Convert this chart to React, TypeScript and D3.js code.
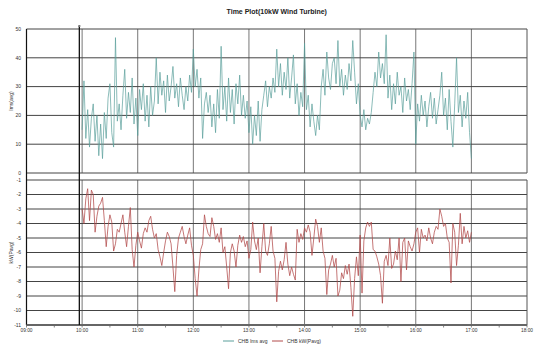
import React from "react";
import * as d3 from "d3";

// readings every 2 minutes, 10:00 .. 17:00
const startTime = "10:00";
const stepMinutes = 2;

const windSpeed = [
  15, 32, 12, 22, 9, 19, 24, 11, 20, 6,
  17, 5, 21, 12, 26, 31, 14, 9, 47, 18,
  24, 15, 27, 36, 19, 28, 21, 33, 17, 26,
  13, 29, 22, 31, 18, 27, 16, 30, 20, 25,
  40, 24, 35, 27, 32, 21, 34, 25, 30, 37,
  26, 31, 23, 33, 27, 22, 30, 25, 34, 28,
  43, 30, 36, 26, 33, 12, 24, 28, 21,
  27, 16, 24, 14, 29, 19, 44, 22, 30, 18, 33,
  21, 29, 17, 31, 24, 34, 20, 27, 19, 25,
  14, 23, 10, 20, 13, 25, 11, 22,
  27, 32, 23, 30, 26, 33, 28,
  43,
  30, 38, 27, 35, 29, 40, 26, 33,
  41,
  24, 31, 20, 28, 23,
  45,
  22, 27, 16, 24, 18, 13, 20, 15,
  30, 36, 27, 42, 33, 29, 38, 40, 31,
  46,
  30, 36, 27, 34, 29, 38, 32, 46,
  35, 24, 31,
  20, 16, 22, 15, 19, 17, 21, 28,
  35, 30, 42, 33, 38, 31, 48,
  26, 34, 22, 31, 24, 35, 27,
  30, 21, 33, 25, 29, 22, 31,
  42, 10,
  24, 18, 27, 20, 25, 16, 23, 28, 19, 26, 17, 22, 27,
  35,
  20, 26, 15, 29, 18, 9, 24,
  40,
  21, 27, 16, 25, 19, 28, 14, 5,
];

const power = [
  -3.0, -4.0, -2.3, -1.6, -3.8, -1.7, -2.0, -4.6, -3.5, -2.8,
  -2.6, -2.2, -3.8, -5.6, -4.2, -3.4, -3.9, -5.9, -5.4, -4.4,
  -4.6, -4.0, -3.4, -4.6, -5.6, -4.2, -2.9, -5.8, -7.0, -5.5,
  -4.6, -5.2, -5.7, -4.7, -4.3, -4.6, -3.8, -3.5, -4.4, -5.0,
  -4.7, -5.8, -6.3, -6.9, -6.0, -5.2, -4.6, -4.9, -5.4, -7.0,
  -8.7, -6.2, -5.0, -4.6, -4.2, -4.9, -5.4, -4.8, -4.3, -5.5,
  -6.2, -7.8, -9.0, -7.2, -5.8, -5.4, -3.4, -4.2, -4.7,
  -4.9, -3.6, -4.2, -5.1, -4.7, -5.3, -4.3, -6.0, -5.6, -7.0,
  -8.5, -6.0, -5.4, -5.9, -7.0, -5.5, -4.8, -5.3, -4.9, -5.6,
  -5.2, -6.4, -5.8, -3.9, -5.2, -5.8, -5.0, -7.4, -5.6, -4.0,
  -5.9, -6.2, -5.4, -4.2, -5.9, -6.4, -9.4, -7.3, -6.6, -7.2,
  -6.5, -5.3, -6.8, -7.6, -7.0, -7.5, -7.9, -4.4, -5.3, -4.7,
  -5.1, -4.3, -4.6, -4.1, -4.6, -6.2, -5.0, -3.7, -4.2, -5.3,
  -4.3, -5.9, -6.4, -8.9, -7.2, -6.8, -6.2, -7.0, -6.4,
  -9.0, -8.6, -7.4, -7.8, -6.9, -7.5, -6.8, -8.4, -10.4, -7.8,
  -6.3, -7.6, -4.8, -8.8, -5.2, -4.3, -3.9, -4.2, -3.9, -5.8,
  -5.9, -6.3, -6.8, -7.6, -9.5, -6.6, -6.2, -6.9, -5.0, -7.1,
  -6.8, -5.9, -6.5, -5.0, -8.0, -5.3, -5.0, -7.2, -5.2, -5.6,
  -5.9, -5.4, -4.6, -4.3, -6.0, -4.4, -5.0, -4.8, -5.2, -4.3,
  -5.0, -5.4, -4.6, -4.2, -4.4, -3.0, -3.5, -4.2, -4.0, -5.0,
  -5.3, -8.1, -4.0, -4.6, -6.9, -5.5, -3.3, -5.4, -4.2, -5.0,
  -4.5, -5.3, -4.6,
];

const hourTicks = ["09:00", "10:00", "11:00", "12:00", "13:00", "14:00", "15:00", "16:00", "17:00", "18:00"];
const windTicks = [0, 10, 20, 30, 40, 50];
const powerTicks = [-1, -2, -3, -4, -5, -6, -7, -8, -9, -10, -11];
const cursorTime = "09:57";

const title = "Time Plot(10kW Wind Turbine)";
const windLabel = "Ims(avg)";
const powerLabel = "kW(Pavg)";
const windLegend = "CHB Ims avg";
const powerLegend = "CHB kW(Pavg)";

const W = 534;
const H = 359;
const FONT = "'Liberation Sans', Arial, sans-serif";
const TEAL = "#5a9f9b";
const RED = "#b24a4a";

const parse = d3.timeParse("%H:%M");

export default function App ()
{
    const left = 26.5, right = 527;
    const top1 = 29, bot1 = 173;
    const top2 = 180, bot2 = 325;

    const t0 = parse(startTime) as Date;
    const times = windSpeed.map((_, i) => d3.timeMinute.offset(t0, i * stepMinutes));

    const x = d3.scaleTime()
        .domain([parse(hourTicks[0]) as Date, parse(hourTicks[hourTicks.length - 1]) as Date])
        .range([left, right]);
    const y1 = d3.scaleLinear().domain([0, 50]).range([bot1, top1]);
    const y2 = d3.scaleLinear().domain([-11, -1]).range([bot2, top2]);

    const windLine = d3.line<number>().x((_, i) => x(times[i])).y(d => y1(d));
    const powerLine = d3.line<number>().x((_, i) => x(times[i])).y(d => y2(d));

    const hours = hourTicks.map(h => parse(h) as Date);
    const halfHours = d3.timeMinute.every(30)!.range(hours[0], hours[hours.length - 1]).filter(d => d.getMinutes() === 30);
    const cx = x(parse(cursorTime) as Date);
    const midX = (left + right) / 2;

    return (
        <svg width={W} height={H} style={{ position: "absolute", left: 0, top: 0, background: "#fff" }} fontFamily={FONT}>
            <text x={midX} y={14} textAnchor="middle" fontSize={7} fontWeight="bold" fill="#222">{title}</text>

            {/* vertical grid */}
            {hours.slice(1, -1).map((h, i) => (
                <g key={i}>
                    <line x1={x(h)} x2={x(h)} y1={top1} y2={bot1} stroke="#777" strokeWidth={1} />
                    <line x1={x(h)} x2={x(h)} y1={top2} y2={bot2} stroke="#777" strokeWidth={1} />
                </g>
            ))}

            {/* horizontal grid, top */}
            {windTicks.map(t => (
                <g key={t}>
                    <line x1={left} x2={right} y1={y1(t)} y2={y1(t)} stroke="#444" strokeWidth={1} />
                    <text x={21} y={y1(t) + 1.8} textAnchor="end" fontSize={5} fill="#333">{t}</text>
                </g>
            ))}
            {/* horizontal grid, bottom */}
            {powerTicks.map(t => (
                <g key={t}>
                    <line x1={left} x2={right} y1={y2(t)} y2={y2(t)} stroke="#444" strokeWidth={1} />
                    <text x={21} y={y2(t) + 1.8} textAnchor="end" fontSize={5} fill="#333">{t}</text>
                </g>
            ))}

            <path d={windLine(windSpeed) ?? ""} fill="none" stroke={TEAL} strokeWidth={0.7} strokeLinejoin="round" />
            <path d={powerLine(power) ?? ""} fill="none" stroke={RED} strokeWidth={0.75} strokeLinejoin="round" />

            {/* frames */}
            <line x1={right} x2={right} y1={top1} y2={bot1} stroke="#555" />
            <line x1={right} x2={right} y1={top2} y2={bot2} stroke="#555" />
            <line x1={left} x2={left} y1={top1} y2={bot2} stroke="#111" strokeWidth={1.2} />
            <line x1={left} x2={right} y1={bot2} y2={bot2} stroke="#666" strokeWidth={2} />

            {/* cursor */}
            <line x1={cx} x2={cx} y1={26} y2={bot2} stroke="#111" strokeWidth={1.3} />
            <rect x={cx - 1} y={25} width={2} height={2} fill="#777" />

            {/* x axis */}
            {halfHours.map((h, i) => (
                <line key={i} x1={x(h)} x2={x(h)} y1={bot2} y2={bot2 + 2.5} stroke="#666" strokeWidth={0.8} />
            ))}
            {hours.map((h, i) => (
                <g key={i}>
                    <line x1={x(h)} x2={x(h)} y1={bot2} y2={bot2 + 2.5} stroke="#666" strokeWidth={0.8} />
                    <text x={x(h)} y={332} textAnchor="middle" fontSize={4.8} fill="#333">{hourTicks[i]}</text>
                </g>
            ))}

            <text transform={`translate(13,${(top1 + bot1) / 2}) rotate(-90)`} textAnchor="middle" fontSize={5} fill="#333">{windLabel}</text>
            <text transform={`translate(13,${(top2 + bot2) / 2}) rotate(-90)`} textAnchor="middle" fontSize={5} fill="#333">{powerLabel}</text>

            {/* legend */}
            <line x1={223} x2={234} y1={341} y2={341} stroke={TEAL} strokeWidth={1} />
            <text x={238} y={342.8} fontSize={5} fill="#333">{windLegend}</text>
            <line x1={272} x2={283} y1={341} y2={341} stroke={RED} strokeWidth={1} />
            <text x={287} y={342.8} fontSize={5} fill="#333">{powerLegend}</text>
        </svg>
    );
}
